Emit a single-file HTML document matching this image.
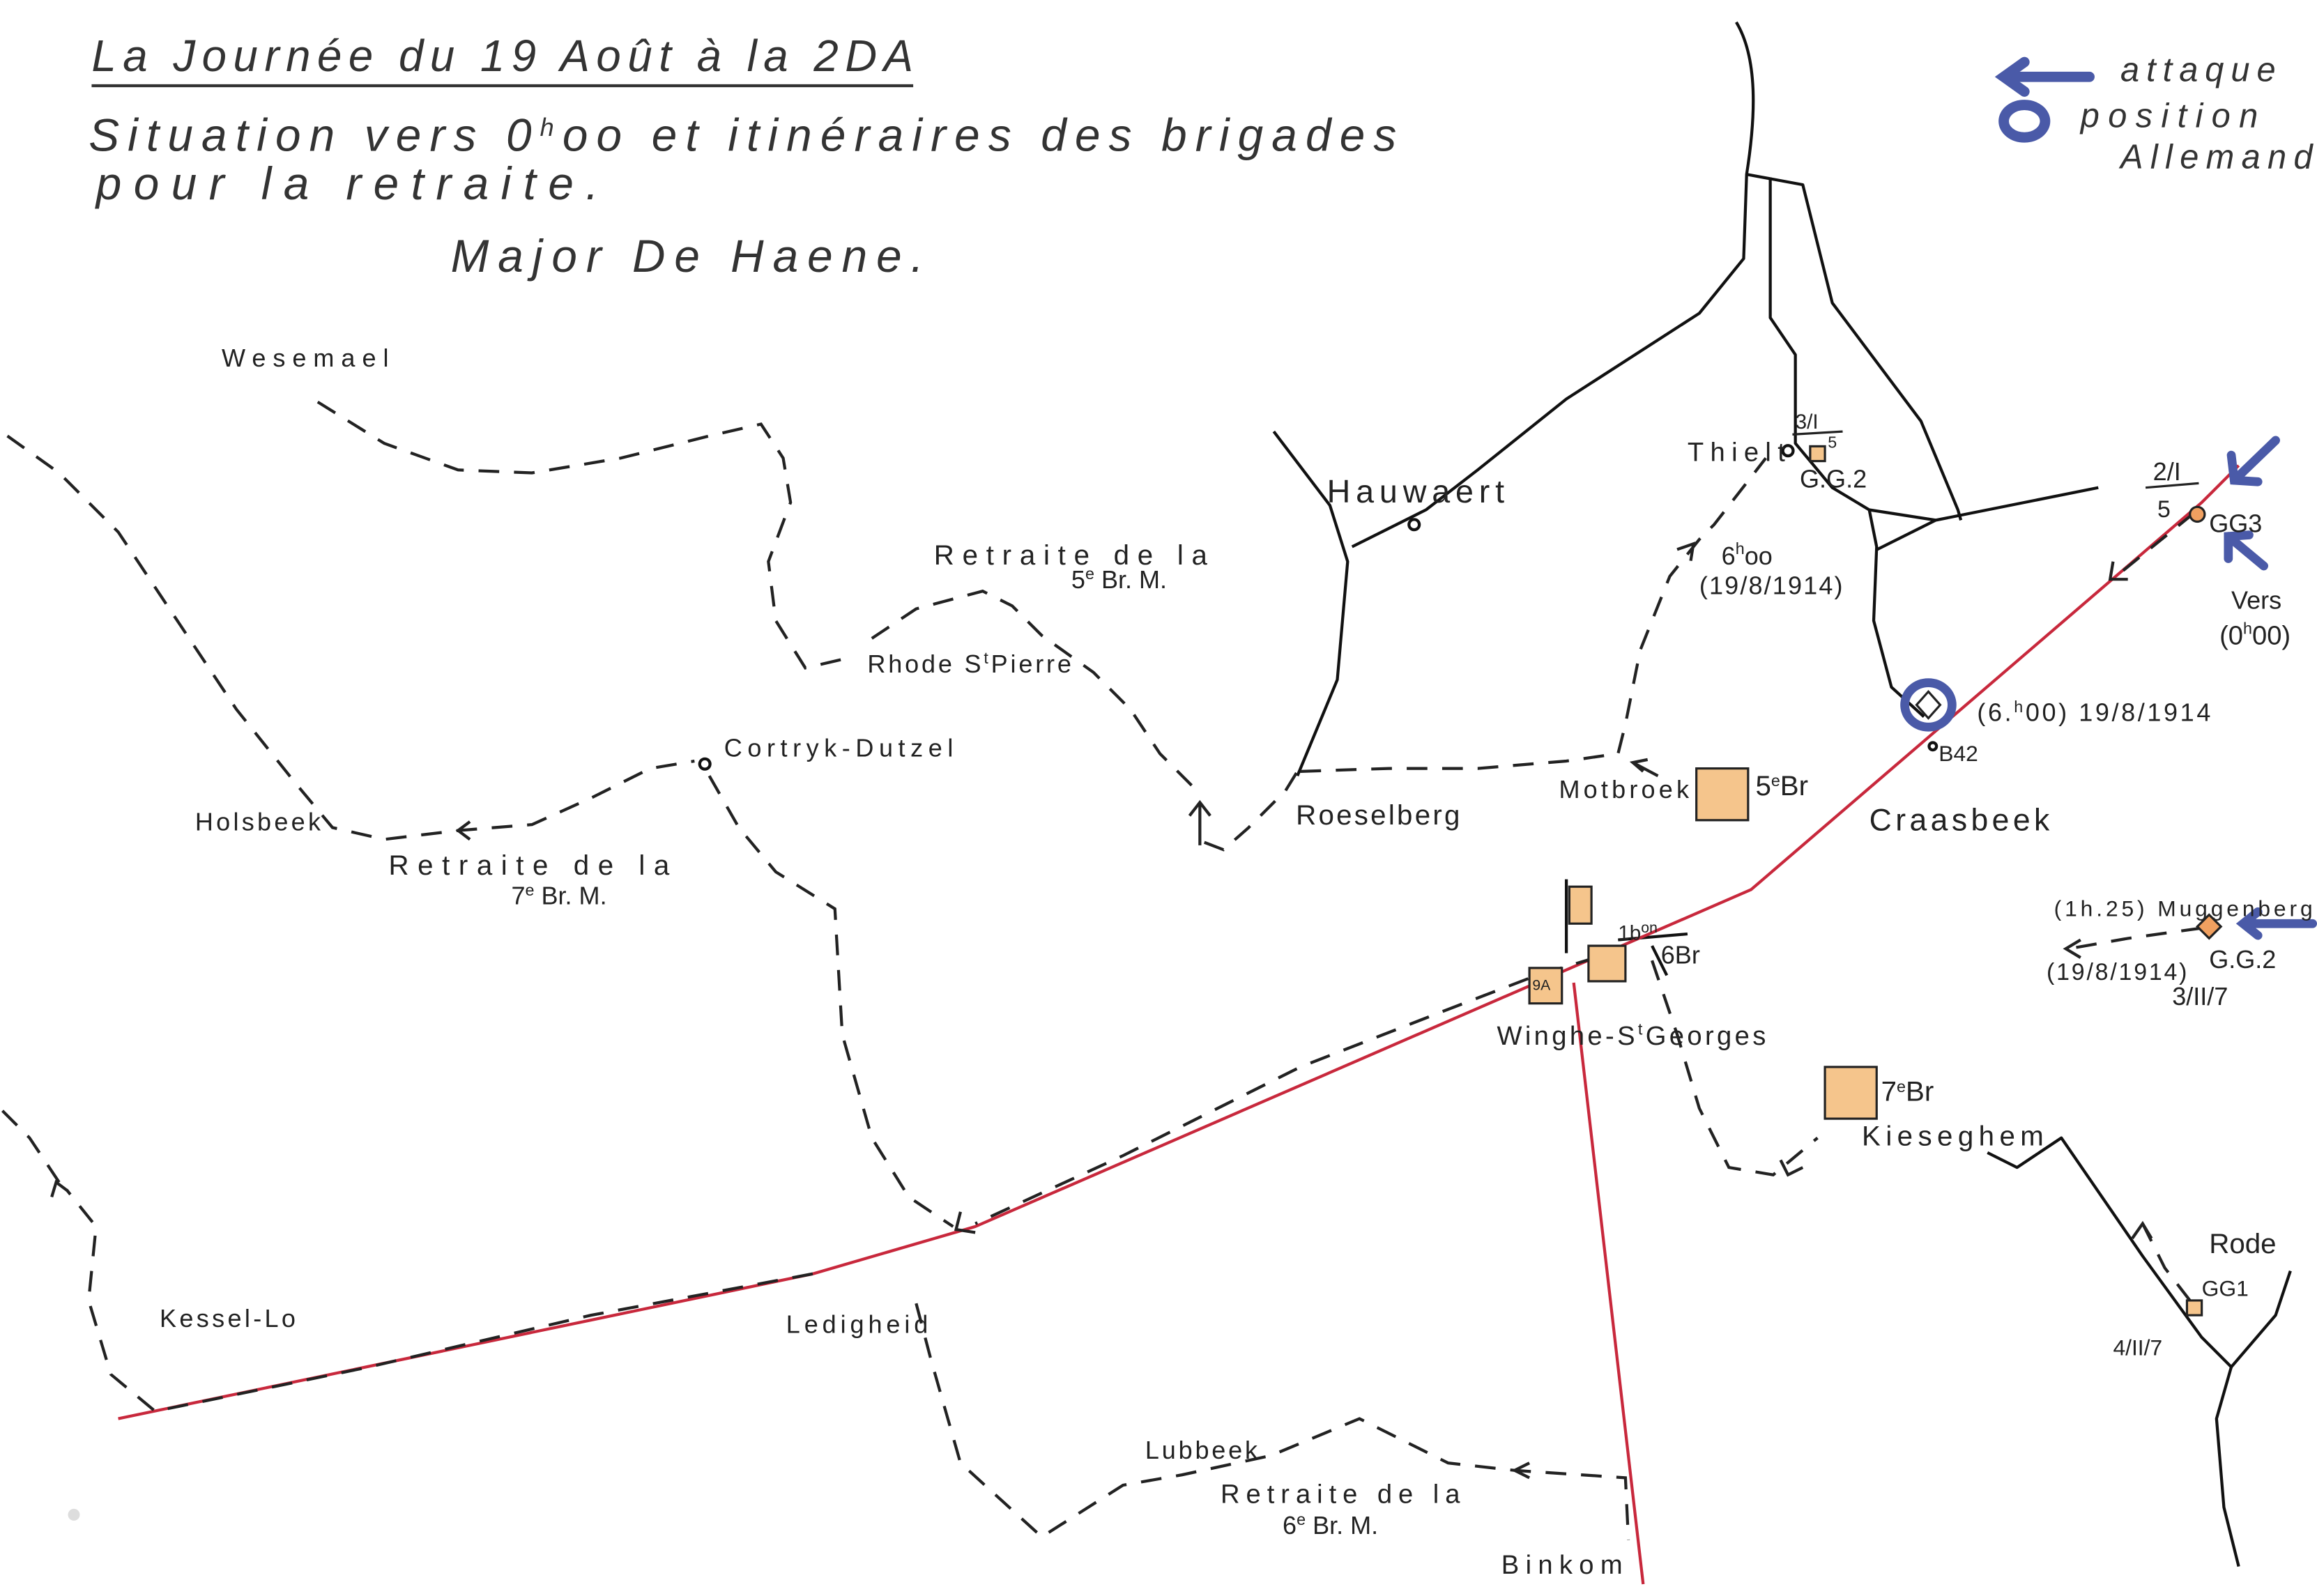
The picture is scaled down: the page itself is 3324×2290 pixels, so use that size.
<!DOCTYPE html>
<html><head><meta charset="utf-8"><style>
html,body{margin:0;padding:0;background:#fff;}
svg{display:block;}
text{font-family:"Liberation Sans",sans-serif;fill:#222;}
.ttl{font-style:italic;fill:#333;}
</style></head><body>
<svg width="3324" height="2290" viewBox="0 0 1568 1080" preserveAspectRatio="none" xmlns="http://www.w3.org/2000/svg">
<rect width="1568" height="1080" fill="#fff"/>
<!-- titles -->
<text class="ttl" x="62" y="48" font-size="30" textLength="556" lengthAdjust="spacing">La Journée du 19 Août à la 2DA</text>
<line x1="62" y1="58" x2="618" y2="58" stroke="#333" stroke-width="2"/>
<text class="ttl" x="60" y="102" font-size="31" textLength="885" lengthAdjust="spacing">Situation vers 0<tspan font-size="17" dy="-10">h</tspan><tspan dy="10">oo et itinéraires des brigades</tspan></text>
<text class="ttl" x="65" y="135" font-size="31" textLength="340" lengthAdjust="spacing">pour la retraite.</text>
<text class="ttl" x="305" y="184" font-size="31" textLength="320" lengthAdjust="spacing">Major De Haene.</text>
<!-- legend -->
<g stroke="#4a5aa8" fill="none" stroke-width="7" stroke-linecap="round">
<line x1="1414" y1="52" x2="1358" y2="52"/>
<polyline points="1370,42 1356,52 1370,62"/>
<ellipse cx="1370" cy="82" rx="14" ry="11"/>
</g>
<text class="ttl" x="1435" y="55" font-size="23" textLength="105">attaque</text>
<text class="ttl" x="1408" y="86" font-size="23" textLength="120">position</text>
<text class="ttl" x="1435" y="114" font-size="23" textLength="130">Allemand</text>
<!-- rivers -->
<g stroke="#111" stroke-width="2" fill="none" stroke-linejoin="round">
<path d="M1175,15 C1190,40 1188,80 1182,118 L1180,175 L1150,212 L1060,270 L1000,318 L965,345 L915,370"/>
<path d="M862,292 L900,342 L912,380 L905,460 L878,525"/>
<path d="M1182,118 L1220,125 L1240,205 L1300,285 L1325,345 L1327,352"/>
<path d="M1198,120 L1198,215 L1215,240 L1215,300 L1240,330 L1265,345 L1310,352"/>
<path d="M1265,345 L1270,370 L1268,420 L1280,465 L1302,485"/>
<path d="M1270,372 L1310,352 L1420,330"/>
<path d="M1345,780 L1365,790 L1395,770 L1450,850 L1490,905 L1510,925 L1540,890 L1550,860"/>
<path d="M1510,925 L1500,960 L1505,1020 L1515,1060"/>
<circle cx="957" cy="355" r="3.5" fill="#fff"/>
<circle cx="1210" cy="305" r="3.5" fill="#fff"/>
<circle cx="477" cy="517" r="3.5" fill="#fff"/>
<circle cx="1308" cy="505" r="2.5" fill="#fff"/>
<line x1="1060" y1="595" x2="1060" y2="645"/>
<line x1="1095" y1="636" x2="1142" y2="632"/>
<line x1="1118" y1="640" x2="1128" y2="660"/>
</g>
<!-- red lines -->
<g stroke="#c8283c" stroke-width="2" fill="none">
<polyline points="80,960 550,862 660,830 1040,665 1185,602 1490,340 1515,315"/>
<line x1="1065" y1="665" x2="1112" y2="1072"/>
</g>
<!-- dashed routes -->
<g stroke="#222" stroke-width="2" fill="none" stroke-dasharray="14,10">
<path d="M215,272 L260,300 L310,318 L360,320 L420,310 L480,295 L515,287 L530,310 L535,340 L520,380 L525,420 L545,452 L575,445"/>
<path d="M590,432 L620,412 L665,400 L685,410 L705,430 L740,455 L765,480 L785,510 L810,535"/>
<path d="M815,570 L828,575 L845,560 L870,535 L878,522"/>
<path d="M880,522 L940,520 L1000,520 L1060,515 L1095,510 L1100,490 L1110,440 L1130,390 L1150,365 L1160,355 L1195,310"/>
<path d="M5,295 L40,320 L80,360 L120,420 L160,480 L200,530 L225,560 L260,568 L310,562 L360,558 L400,540 L440,520 L470,515"/>
<path d="M480,525 L500,560 L525,590 L565,615 L570,700 L590,770 L615,810 L645,830"/>
<path d="M1080,648 L1040,660 L980,683 L880,722 L760,782 L660,828"/>
<path d="M550,862 L400,890 L250,925 L105,955 L75,930 L60,880 L65,830 L45,805"/>
<path d="M40,800 L20,770 L0,750"/>
<path d="M620,882 L630,920 L650,990 L705,1040 L760,1005 L800,998 L860,985 L920,960 L950,975 L980,990 L1025,995 L1100,1000 L1102,1042"/>
<path d="M1118,650 L1135,700 L1150,750 L1170,790 L1200,795 L1230,770"/>
<path d="M1482,880 L1465,858 L1450,828"/>
<path d="M1485,347 L1432,390"/>
<path d="M1490,628 L1440,635 L1400,642"/>
</g>
<!-- arrowheads -->
<g stroke="#222" stroke-width="2" fill="none">
<polyline points="805,552 812,543 819,552"/><line x1="812" y1="543" x2="812" y2="572"/>
<polyline points="1140,378 1146,368 1152,378" transform="rotate(40 1146 368)"/>
<polyline points="318,556 310,562 318,568"/>
<polyline points="650,820 647,832 660,834"/>
<polyline points="35,810 38,800 46,806"/>
<polyline points="1035,990 1025,995 1035,1000"/>
<polyline points="1205,785 1210,795 1220,790"/>
<polyline points="1443,838 1450,828 1456,838"/>
<polyline points="1430,380 1428,392 1440,392"/>
<polyline points="1408,636 1398,642 1408,648"/>
<polyline points="1112,522 1105,516 1115,514"/><line x1="1105" y1="516" x2="1122" y2="525"/>
</g>
<!-- squares -->
<g stroke="#222" stroke-width="1.5" fill="#f5c58c">
<rect x="1148" y="520" width="35" height="35"/>
<rect x="1235" y="722" width="35" height="35"/>
<rect x="1075" y="640" width="25" height="24"/>
<rect x="1062" y="600" width="15" height="25"/>
<rect x="1035" y="655" width="22" height="24"/>
<rect x="1225" y="302" width="10" height="10"/>
<rect x="1480" y="880" width="10" height="10"/>
<circle cx="1487" cy="348" r="5" fill="#f0a060"/>
<polygon points="1495,619 1503,627 1495,635 1487,627" fill="#f0a060"/>
</g>
<!-- blue markers -->
<g stroke="#4a5aa8" fill="none" stroke-width="6" stroke-linecap="round">
<ellipse cx="1305" cy="477" rx="16" ry="15"/>
<line x1="1540" y1="298" x2="1512" y2="325"/><polyline points="1510,308 1512,325 1528,326"/>
<line x1="1532" y1="383" x2="1508" y2="363"/><polyline points="1508,378 1508,363 1522,362"/>
<line x1="1565" y1="625" x2="1520" y2="625"/><polyline points="1528,617 1518,625 1528,633"/>
</g>
<polygon points="1305,468 1313,477 1305,486 1297,477" fill="none" stroke="#222" stroke-width="1.5"/>
<!-- labels -->
<g font-size="17">
<text x="150" y="248" textLength="113">Wesemael</text>
<text x="632" y="382" font-size="19" textLength="185">Retraite de la</text>
<text x="725" y="398">5<tspan font-size="11" dy="-6">e</tspan><tspan dy="6"> Br. M.</tspan></text>
<text x="587" y="455" textLength="138">Rhode S<tspan font-size="11" dy="-6">t</tspan><tspan dy="6">Pierre</tspan></text>
<text x="490" y="512" textLength="155">Cortryk-Dutzel</text>
<text x="132" y="562" textLength="85">Holsbeek</text>
<text x="263" y="592" font-size="19" textLength="190">Retraite de la</text>
<text x="346" y="612">7<tspan font-size="11" dy="-6">e</tspan><tspan dy="6"> Br. M.</tspan></text>
<text x="898" y="340" font-size="22" textLength="120">Hauwaert</text>
<text x="877" y="558" font-size="19" textLength="111">Roeselberg</text>
<text x="1055" y="540" textLength="88">Motbroek</text>
<text x="1188" y="538" font-size="19">5<tspan font-size="11" dy="-6">e</tspan><tspan dy="6">Br</tspan></text>
<text x="1265" y="562" font-size="21" textLength="122">Craasbeek</text>
<text x="1142" y="312" font-size="18" textLength="66">Thielt</text>
<text x="1215" y="290" font-size="14">3/I</text>
<line x1="1213" y1="294" x2="1247" y2="292" stroke="#222" stroke-width="1.5"/>
<text x="1237" y="303" font-size="11">5</text>
<text x="1218" y="330">G.G.2</text>
<text x="1165" y="382" font-size="17">6<tspan font-size="11" dy="-7">h</tspan><tspan dy="7">oo</tspan></text>
<text x="1150" y="402" font-size="17" textLength="97">(19/8/1914)</text>
<text x="1338" y="488" font-size="17" textLength="158">(6.<tspan font-size="11" dy="-6">h</tspan><tspan dy="6">00) 19/8/1914</tspan></text>
<text x="1312" y="515" font-size="15">B42</text>
<text x="1457" y="325" font-size="17">2/I</text>
<line x1="1452" y1="330" x2="1488" y2="327" stroke="#222" stroke-width="1.5"/>
<text x="1460" y="350" font-size="16">5</text>
<text x="1495" y="360" font-size="17">GG3</text>
<text x="1510" y="412" font-size="17">Vers</text>
<text x="1502" y="436" font-size="18">(0<tspan font-size="11" dy="-7">h</tspan><tspan dy="7">00)</tspan></text>
<text x="1390" y="620" font-size="15" textLength="175">(1h.25) Muggenberg</text>
<text x="1385" y="663" font-size="16" textLength="95">(19/8/1914)</text>
<text x="1495" y="655">G.G.2</text>
<text x="1470" y="680">3/II/7</text>
<text x="1095" y="636" font-size="14">1b<tspan font-size="10" dy="-5">on</tspan></text>
<text x="1124" y="652">6Br</text>
<text x="1037" y="670" font-size="10">9A</text>
<text x="1013" y="707" font-size="18" textLength="182">Winghe-S<tspan font-size="11" dy="-7">t</tspan><tspan dy="7">Georges</tspan></text>
<text x="1273" y="745" font-size="19">7<tspan font-size="11" dy="-6">e</tspan><tspan dy="6">Br</tspan></text>
<text x="1260" y="775" font-size="19" textLength="123">Kieseghem</text>
<text x="1495" y="848" font-size="19">Rode</text>
<text x="1490" y="877" font-size="15">GG1</text>
<text x="1430" y="917" font-size="15">4/II/7</text>
<text x="108" y="898" textLength="92">Kessel-Lo</text>
<text x="532" y="902" textLength="96">Ledigheid</text>
<text x="775" y="987" textLength="76">Lubbeek</text>
<text x="826" y="1017" font-size="18" textLength="162">Retraite de la</text>
<text x="868" y="1038">6<tspan font-size="11" dy="-6">e</tspan><tspan dy="6"> Br. M.</tspan></text>
<text x="1016" y="1065" font-size="18" textLength="82">Binkom</text>
</g>
<circle cx="50" cy="1025" r="4" fill="#ddd"/>
</svg>
</body></html>
